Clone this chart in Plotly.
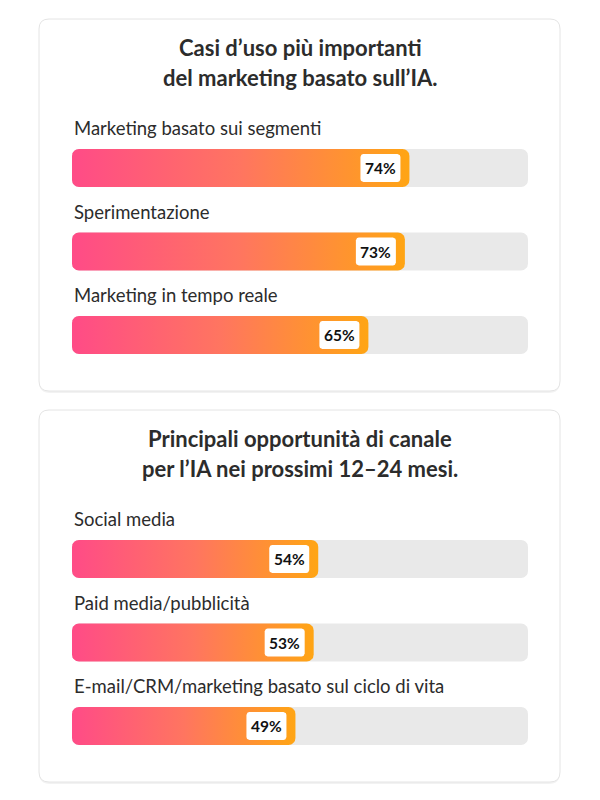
import math

import plotly.graph_objects as go

# chart content
title_1 = ["Casi d’uso più importanti", "del marketing basato sull’IA."]
labels_1 = ["Marketing basato sui segmenti", "Sperimentazione", "Marketing in tempo reale"]
values_1 = [74, 73, 65]

title_2 = ["Principali opportunità di canale", "per l’IA nei prossimi 12–24 mesi."]
labels_2 = ["Social media", "Paid media/pubblicità",
            "E-mail/CRM/marketing basato sul ciclo di vita"]
values_2 = [54, 53, 49]

W, H = 600, 800
TRACK_L, TRACK_R = 72, 528
PX = (TRACK_R - TRACK_L) / 100   # pixels per percentage point
BAR_H = 38
ROW_GAP = 83.5
FONT = "Lato"
TEXT = "#2c2c2c"


def rounded_rect(x0, x1, yc, h, r, n=8):
    # x in percent units, y in pixels from top; r in pixels
    rx, ry = r / PX, r
    y0, y1 = yc - h / 2, yc + h / 2
    xs, ys = [], []
    for cx, cy, a0 in [(x1 - rx, y0 + ry, -90), (x1 - rx, y1 - ry, 0),
                       (x0 + rx, y1 - ry, 90), (x0 + rx, y0 + ry, 180)]:
        for k in range(n + 1):
            a = math.radians(a0 + 90 * k / n)
            xs.append(cx + rx * math.cos(a))
            ys.append(cy + ry * math.sin(a))
    xs.append(xs[0])
    ys.append(ys[0])
    return xs, ys


def card_path(x0, x1, y0, y1, r):
    # paper x, pixel y
    rx = r / W
    return (f"M{x0 + rx},{y0} L{x1 - rx},{y0} Q{x1},{y0} {x1},{y0 + r} "
            f"L{x1},{y1 - r} Q{x1},{y1} {x1 - rx},{y1} L{x0 + rx},{y1} "
            f"Q{x0},{y1} {x0},{y1 - r} L{x0},{y0 + r} Q{x0},{y0} {x0 + rx},{y0} Z")


cards = [
    dict(top=19, bottom=391, title=title_1, labels=labels_1, values=values_1),
    dict(top=410, bottom=782, title=title_2, labels=labels_2, values=values_2),
]

fig = go.Figure()
shapes, annotations = [], []

for card in cards:
    top = card["top"]
    # soft shadow + card
    shapes.append(dict(type="path", xref="paper", yref="y", layer="below",
                       path=card_path(39 / W, 560 / W, top + 1, card["bottom"] + 2, 11),
                       fillcolor="rgba(0,0,0,0.05)", line=dict(width=0)))
    shapes.append(dict(type="path", xref="paper", yref="y", layer="below",
                       path=card_path(39 / W, 560 / W, top, card["bottom"], 10),
                       fillcolor="white", line=dict(color="#e4e4e4", width=1)))
    for j, line in enumerate(card["title"]):
        annotations.append(dict(xref="paper", yref="y", x=0.5, y=top + 28 + 30 * j,
                                text=f"<b>{line}</b>", showarrow=False,
                                font=dict(family=FONT, size=22, color=TEXT)))

    for i, (lab, val) in enumerate(zip(card["labels"], card["values"])):
        yc = top + 149 + ROW_GAP * i
        tx, ty = rounded_rect(0, 100, yc, BAR_H, 7)
        fig.add_trace(go.Scatter(x=tx, y=ty, mode="lines", fill="toself",
                                 fillcolor="#e9e9e9", line=dict(width=0),
                                 hoverinfo="skip", showlegend=False))
        bx, by = rounded_rect(0, val, yc, BAR_H, 7)
        fig.add_trace(go.Scatter(x=bx, y=by, mode="lines", fill="toself",
                                 fillgradient=dict(type="horizontal",
                                                   colorscale=[[0, "#ff4b87"], [0.5, "#ff7560"], [1, "#ffa514"]]),
                                 line=dict(width=0), name=lab,
                                 hoverinfo="skip", showlegend=False))
        wx, wy = rounded_rect(val - 49 / PX, val - 9 / PX, yc, 28, 3)
        fig.add_trace(go.Scatter(x=wx, y=wy, mode="lines", fill="toself",
                                 fillcolor="white", line=dict(width=0),
                                 hoverinfo="skip", showlegend=False))
        annotations.append(dict(xref="x", yref="y", x=val - 29 / PX, y=yc,
                                text=f"<b>{val}%</b>", showarrow=False,
                                font=dict(family=FONT, size=15.5, color="#111111")))
        annotations.append(dict(xref="x", yref="y", x=0, y=yc - 40, xanchor="left",
                                text=lab, showarrow=False,
                                font=dict(family=FONT, size=18.5, color=TEXT)))

fig.update_layout(
    width=W, height=H,
    margin=dict(l=0, r=0, t=0, b=0),
    paper_bgcolor="white", plot_bgcolor="rgba(0,0,0,0)",
    xaxis=dict(domain=[TRACK_L / W, TRACK_R / W], range=[0, 100], visible=False, fixedrange=True),
    yaxis=dict(domain=[0, 1], range=[H, 0], visible=False, fixedrange=True),
    shapes=shapes, annotations=annotations,
    showlegend=False,
)

# drop the default page margin so the chart sits at 0,0
fig.write_html("out.html", config={"displayModeBar": False},
               post_script="document.body.style.margin='0';document.body.style.overflow='hidden';")
